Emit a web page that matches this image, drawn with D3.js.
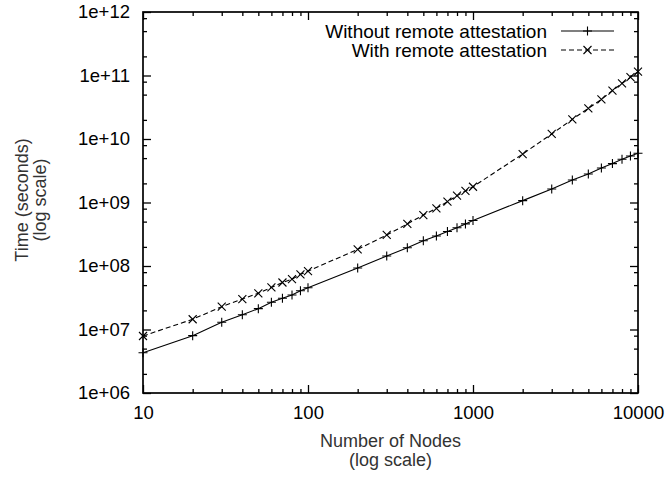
<!DOCTYPE html>
<html>
<head>
<meta charset="utf-8">
<script src="https://d3js.org/d3.v7.min.js"></script>
<style>
  body { margin: 0; background: #fff; }
  svg { display: block; font-family: "Liberation Sans", Arial, sans-serif; }
  .tick text { font-size: 18.5px; fill: #000; }
  .axis-label { font-size: 18px; fill: #333; }
  .legend text { font-size: 19px; fill: #000; }
</style>
</head>
<body>
<div id="chart"></div>
<script>
// node counts (x) and the two timing series (y, seconds)
const nodes = [10, 20, 30, 40, 50, 60, 70, 80, 90,
               100, 200, 300, 400, 500, 600, 700, 800, 900,
               1000, 2000, 3000, 4000, 5000, 6000, 7000, 8000, 9000, 10000];

const withoutRA = [4.3e6, 8.0e6, 1.3e7, 1.71e7, 2.13e7, 2.68e7, 3.1e7, 3.5e7, 4.08e7,
                   4.55e7, 9.3e7, 1.44e8, 1.94e8, 2.5e8, 2.97e8, 3.5e8, 4.0e8, 4.6e8,
                   5.2e8, 1.07e9, 1.63e9, 2.26e9, 2.81e9, 3.5e9, 4.1e9, 4.8e9, 5.4e9, 5.96e9];

const withRA = [7.9e6, 1.45e7, 2.29e7, 3.02e7, 3.72e7, 4.6e7, 5.5e7, 6.2e7, 7.4e7,
                8.3e7, 1.83e8, 3.08e8, 4.6e8, 6.35e8, 8.1e8, 1.03e9, 1.28e9, 1.52e9,
                1.77e9, 5.8e9, 1.2e10, 2.04e10, 3.04e10, 4.2e10, 5.8e10, 7.5e10, 9.4e10, 1.15e11];

const xTicks = [10, 100, 1000, 10000];
const xTickLabels = ["10", "100", "1000", "10000"];
const yTicks = [1e6, 1e7, 1e8, 1e9, 1e10, 1e11, 1e12];
const yTickLabels = ["1e+06", "1e+07", "1e+08", "1e+09", "1e+10", "1e+11", "1e+12"];
const seriesNames = ["Without remote attestation", "With remote attestation"];

const w = 668, h = 477;
const mLeft = 143, mRight = 638, mTop = 12, mBottom = 393;

const svg = d3.select("#chart").append("svg")
  .attr("width", w)
  .attr("height", h);

const x = d3.scaleLog().domain([10, 10000]).range([mLeft, mRight]);
const y = d3.scaleLog().domain([1e6, 1e12]).range([mBottom, mTop]);

// minor tick positions
const xMinor = [];
[10, 100, 1000].forEach(d => { for (let k = 2; k <= 9; k++) xMinor.push(d * k); });
const yMinor = [];
yTicks.slice(0, -1).forEach(d => [2, 5, 8].forEach(k => yMinor.push(d * k)));

function addAxis(axis, tx, ty) {
  const g = svg.append("g").attr("transform", `translate(${tx},${ty})`).call(axis);
  g.select(".domain").remove();
  g.selectAll(".tick line").attr("stroke", "#000").attr("stroke-width", 1.3);
  return g;
}

// major ticks with labels
addAxis(d3.axisBottom(x).tickValues(xTicks)
  .tickFormat((d, i) => xTickLabels[i]).tickSizeInner(-8).tickSizeOuter(0).tickPadding(13), 0, mBottom);
addAxis(d3.axisLeft(y).tickValues(yTicks)
  .tickFormat((d, i) => yTickLabels[i]).tickSizeInner(-8).tickSizeOuter(0).tickPadding(13), mLeft, 0);
// mirrored major ticks
addAxis(d3.axisTop(x).tickValues(xTicks).tickFormat("").tickSizeInner(-8).tickSizeOuter(0), 0, mTop);
addAxis(d3.axisRight(y).tickValues(yTicks).tickFormat("").tickSizeInner(-8).tickSizeOuter(0), mRight, 0);
// minor ticks
addAxis(d3.axisBottom(x).tickValues(xMinor).tickFormat("").tickSizeInner(-4).tickSizeOuter(0), 0, mBottom);
addAxis(d3.axisTop(x).tickValues(xMinor).tickFormat("").tickSizeInner(-4).tickSizeOuter(0), 0, mTop);
addAxis(d3.axisLeft(y).tickValues(yMinor).tickFormat("").tickSizeInner(-4).tickSizeOuter(0), mLeft, 0);
addAxis(d3.axisRight(y).tickValues(yMinor).tickFormat("").tickSizeInner(-4).tickSizeOuter(0), mRight, 0);

// border
svg.append("rect")
  .attr("x", mLeft).attr("y", mTop)
  .attr("width", mRight - mLeft).attr("height", mBottom - mTop)
  .attr("fill", "none").attr("stroke", "#000").attr("stroke-width", 1.7);

// axis labels
svg.append("text").attr("class", "axis-label")
  .attr("x", (mLeft + mRight) / 2).attr("y", 447)
  .attr("text-anchor", "middle").text("Number of Nodes");
svg.append("text").attr("class", "axis-label")
  .attr("x", (mLeft + mRight) / 2).attr("y", 466)
  .attr("text-anchor", "middle").text("(log scale)");
svg.append("text").attr("class", "axis-label")
  .attr("transform", "translate(28,200) rotate(-90)")
  .attr("text-anchor", "middle").text("Time (seconds)");
svg.append("text").attr("class", "axis-label")
  .attr("transform", "translate(46,200) rotate(-90)")
  .attr("text-anchor", "middle").text("(log scale)");

// series
const line = d3.line().x(d => x(d[0])).y(d => y(d[1]));
const series = [
  { values: withoutRA, dash: null, marker: "plus" },
  { values: withRA, dash: "5,3", marker: "cross" }
];

function marker(g, cx, cy, type) {
  const s = type === "plus" ? 4.5 : 4;
  const p = type === "plus"
    ? `M${cx - s},${cy}H${cx + s}M${cx},${cy - s}V${cy + s}`
    : `M${cx - s},${cy - s}L${cx + s},${cy + s}M${cx - s},${cy + s}L${cx + s},${cy - s}`;
  g.append("path").attr("d", p).attr("stroke", "#000").attr("stroke-width", 1.1).attr("fill", "none");
}

series.forEach(s => {
  const pts = nodes.map((n, i) => [n, s.values[i]]);
  const g = svg.append("g");
  g.append("path").datum(pts)
    .attr("d", line)
    .attr("fill", "none").attr("stroke", "#000").attr("stroke-width", 1.1)
    .attr("stroke-dasharray", s.dash);
  pts.forEach(d => marker(g, x(d[0]), y(d[1]), s.marker));
});

// legend
const legend = svg.append("g").attr("class", "legend");
series.forEach((s, i) => {
  const ly = 31 + i * 19;
  legend.append("text")
    .attr("x", 547).attr("y", ly).attr("dy", "0.35em")
    .attr("text-anchor", "end").text(seriesNames[i]);
  legend.append("line")
    .attr("x1", 561).attr("x2", 614).attr("y1", ly).attr("y2", ly)
    .attr("stroke", "#000").attr("stroke-width", 1.1)
    .attr("stroke-dasharray", s.dash);
  marker(legend, 587.5, ly, s.marker);
});
</script>
</body>
</html>
